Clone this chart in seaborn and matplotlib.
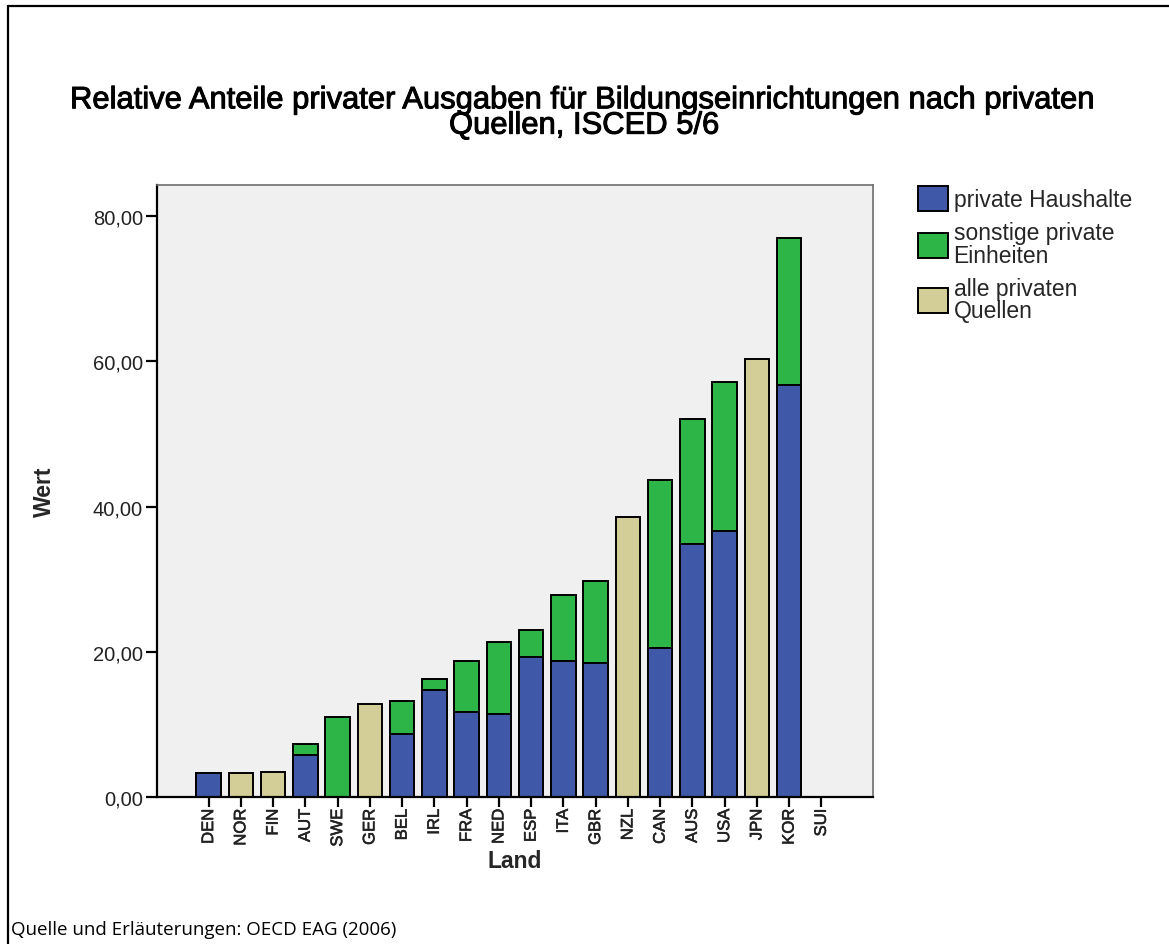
import numpy as np
import matplotlib
matplotlib.use("Agg")
import matplotlib.pyplot as plt
import matplotlib.patheffects as pe
import seaborn as sns
from matplotlib.patches import Patch
from matplotlib.lines import Line2D
from matplotlib.ticker import FixedLocator, FuncFormatter

nan = np.nan

# OECD countries, ordered by total private share
countries = ["DEN", "NOR", "FIN", "AUT", "SWE", "GER", "BEL", "IRL", "FRA", "NED",
             "ESP", "ITA", "GBR", "NZL", "CAN", "AUS", "USA", "JPN", "KOR", "SUI"]

# private households
households = [3.3, nan, nan, 5.8, 0.0, nan, 8.7, 14.7, 11.7, 11.5,
              19.3, 18.8, 18.4, nan, 20.5, 34.8, 36.7, nan, 56.7, nan]

# other private entities
other_private = [0.0, nan, nan, 1.5, 11.0, nan, 4.5, 1.5, 7.0, 9.8,
                 3.7, 9.0, 11.3, nan, 23.1, 17.2, 20.4, nan, 20.3, nan]

# all private sources (no breakdown available)
all_private = [nan, 3.3, 3.5, nan, nan, 12.8, nan, nan, nan, nan,
               nan, nan, nan, 38.5, nan, nan, nan, 60.3, nan, nan]

legend_labels = ["private Haushalte", "sonstige private\nEinheiten", "alle privaten\nQuellen"]
y_ticks = [0, 20, 40, 60, 80]

title = "Relative Anteile privater Ausgaben für Bildungseinrichtungen nach privaten\nQuellen, ISCED 5/6"
caption = "Quelle und Erläuterungen: OECD EAG (2006)"

BLUE = "#3F58A8"
GREEN = "#2EB547"
TAN = "#D3CE97"

sns.set_theme(style="ticks")
plt.rcParams["font.family"] = ["Liberation Sans", "DejaVu Sans"]

W, H = 1169, 945
fig = plt.figure(figsize=(W / 100, H / 100), dpi=100)
fig.patch.set_facecolor("white")

# axes box in pixel coordinates
left, right, top, bottom = 157, 873, 186, 798
ax = fig.add_axes([left / W, 1 - bottom / H, (right - left) / W, (bottom - top) / H])
ax.set_facecolor("#F0F0F0")

stacked = [h + o for h, o in zip(households, other_private)]

bar_kw = dict(order=countries, width=0.76, edgecolor="black", linewidth=1.4,
              saturation=1, errorbar=None, ax=ax)
sns.barplot(x=countries, y=stacked, color=GREEN, **bar_kw)
sns.barplot(x=countries, y=all_private, color=TAN, **bar_kw)
sns.barplot(x=countries, y=households, color=BLUE, **bar_kw)

ax.set_xlim(-1.6, len(countries) - 1 + 1.6)
ax.set_ylim(0, 84.3)
ax.yaxis.set_major_locator(FixedLocator(y_ticks))
ax.yaxis.set_major_formatter(FuncFormatter(lambda v, p: f"{v:.2f}".replace(".", ",")))

ax.tick_params(axis="y", length=8, width=1.6, pad=2, labelsize=14.5, colors="black",
               labelcolor="#222222")
ax.tick_params(axis="x", length=7, width=1.6, pad=1.5, labelsize=12, rotation=90,
               colors="black", labelcolor="#222222")
for lab in ax.get_xticklabels():
    lab.set_path_effects([pe.withStroke(linewidth=0.4, foreground="#222222")])

for side in ("left", "bottom"):
    ax.spines[side].set_color("black")
    ax.spines[side].set_linewidth(1.6)
for side in ("top", "right"):
    ax.spines[side].set_visible(True)
    ax.spines[side].set_color("#6E6E6E")
    ax.spines[side].set_linewidth(1.2)

ax.set_xlabel("Land", fontsize=16.5, fontweight="bold", labelpad=2)
ax.set_ylabel("Wert", fontsize=16.5, fontweight="bold", labelpad=27)

handles = [Patch(facecolor=c, edgecolor="black", linewidth=1.4) for c in (BLUE, GREEN, TAN)]
leg = fig.legend(handles, legend_labels, loc="upper left",
                 bbox_to_anchor=(918 / W, 1 - 187 / H), frameon=False, fontsize=16.5,
                 handlelength=1.3, handleheight=1.3, handletextpad=0.25,
                 labelspacing=0.45, borderpad=0, borderaxespad=0)
for t in leg.get_texts():
    t.set_linespacing(0.95)

fig.text(0.5, 1 - 114 / H, title, ha="center", va="center", fontsize=22.3,
         linespacing=0.8, color="black",
         path_effects=[pe.withStroke(linewidth=0.7, foreground="black")])

fig.text(11 / W, 1 - 930 / H, caption, ha="left", va="center", fontsize=13.5,
         family=["Open Sans", "DejaVu Sans"], color="black")

# outer frame (top and left edges)
fig.add_artist(Line2D([8 / W, 1.0], [1 - 7 / H, 1 - 7 / H], transform=fig.transFigure,
                      color="black", linewidth=1.6))
fig.add_artist(Line2D([8 / W, 8 / W], [1 - 7 / H, 0.0], transform=fig.transFigure,
                      color="black", linewidth=1.6))

fig.savefig("out.png", dpi=100)
